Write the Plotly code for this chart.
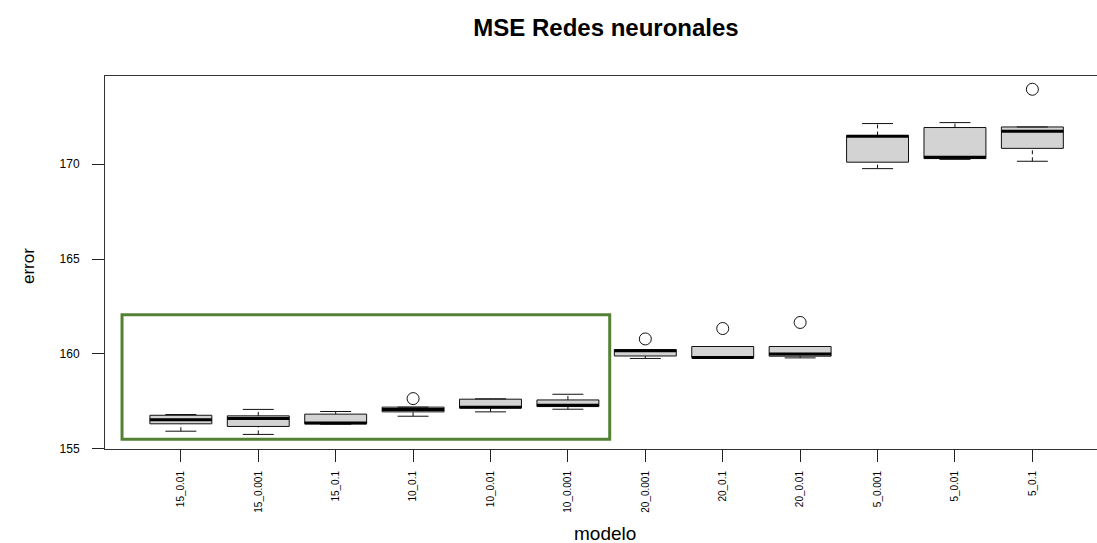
import plotly.graph_objects as go

# Modelos (neuronas_decay) y estadísticos del MSE por modelo
modelos = ["15_0.01", "15_0.001", "15_0.1", "10_0.1", "10_0.01", "10_0.001",
           "20_0.001", "20_0.1", "20_0.01", "5_0.001", "5_0.01", "5_0.1"]
bigote_inf = [155.91, 155.74, 156.28, 156.70, 156.93, 157.07,
              159.75, 159.79, 159.78, 169.77, 170.26, 170.16]
q1 = [156.30, 156.16, 156.30, 156.93, 157.14, 157.21,
      159.88, 159.80, 159.87, 170.11, 170.30, 170.84]
mediana = [156.51, 156.58, 156.34, 157.05, 157.18, 157.28,
           160.15, 159.80, 159.99, 171.48, 170.37, 171.74]
q3 = [156.75, 156.72, 156.81, 157.18, 157.60, 157.56,
      160.22, 160.38, 160.38, 171.52, 171.94, 171.97]
bigote_sup = [156.79, 157.06, 156.95, 157.18, 157.62, 157.86,
              160.22, 160.38, 160.38, 172.15, 172.20, 171.97]

# Valores atípicos
atipico_modelo = ["10_0.1", "20_0.001", "20_0.1", "20_0.01", "5_0.1"]
atipico_valor = [157.63, 160.78, 161.33, 161.65, 173.96]

# Recuadro que agrupa los mejores modelos (en unidades de los ejes)
recuadro_x = [0.24, 6.54]
recuadro_y = [155.49, 162.06]

pos = list(range(1, len(modelos) + 1))
idx = {m: i + 1 for i, m in enumerate(modelos)}
ancho = 0.8
FONT = "Arial, Liberation Sans, sans-serif"

fig = go.Figure()

# Cajas (sin bigotes, se dibujan aparte con línea discontinua)
fig.add_trace(go.Box(
    x=pos, q1=q1, median=mediana, q3=q3,
    lowerfence=q1, upperfence=q3,
    width=ancho, whiskerwidth=0, boxpoints=False,
    fillcolor="#D3D3D3", line=dict(color="#111111", width=1),
    showlegend=False, hoverinfo="skip",
))

# Bigotes discontinuos
wx, wy = [], []
for p, lo, a, b, hi in zip(pos, bigote_inf, q1, q3, bigote_sup):
    wx += [p, p, None, p, p, None]
    wy += [lo, a, None, b, hi, None]
fig.add_trace(go.Scatter(x=wx, y=wy, mode="lines",
                         line=dict(color="#111111", width=1, dash="4px,3px"),
                         showlegend=False, hoverinfo="skip"))

# Extremos de los bigotes
cx, cy = [], []
for p, lo, hi in zip(pos, bigote_inf, bigote_sup):
    cx += [p - ancho / 4, p + ancho / 4, None, p - ancho / 4, p + ancho / 4, None]
    cy += [lo, lo, None, hi, hi, None]
fig.add_trace(go.Scatter(x=cx, y=cy, mode="lines",
                         line=dict(color="#111111", width=1),
                         showlegend=False, hoverinfo="skip"))

# Mediana gruesa
mx, my = [], []
for p, m in zip(pos, mediana):
    mx += [p - ancho / 2, p + ancho / 2, None]
    my += [m, m, None]
fig.add_trace(go.Scatter(x=mx, y=my, mode="lines",
                         line=dict(color="black", width=3),
                         showlegend=False, hoverinfo="skip"))

# Atípicos
fig.add_trace(go.Scatter(
    x=[idx[m] for m in atipico_modelo], y=atipico_valor, mode="markers",
    marker=dict(symbol="circle-open", size=12, color="#111111",
                line=dict(width=1, color="#111111")),
    showlegend=False, hoverinfo="skip",
))

# Recuadro verde
fig.add_shape(type="rect", xref="x", yref="y",
              x0=recuadro_x[0], x1=recuadro_x[1],
              y0=recuadro_y[0], y1=recuadro_y[1],
              line=dict(color="#548235", width=3), fillcolor="rgba(0,0,0,0)")

fig.update_layout(
    width=1097, height=543,
    margin=dict(l=105, r=0, t=76, b=94),
    paper_bgcolor="white", plot_bgcolor="white",
    font=dict(family=FONT, color="black"),
    title=dict(text="<b>MSE Redes neuronales</b>", xref="container",
               x=606 / 1097, xanchor="center", y=1 - 28 / 543, yanchor="middle",
               font=dict(size=24, color="black", family=FONT)),
    xaxis=dict(range=[0.02, 12.835], tickmode="array", tickvals=pos,
               ticktext=modelos, tickangle=-90,
               tickfont=dict(size=10, color="black"),
               ticks="outside", ticklen=12, tickcolor="#222222",
               ticklabelstandoff=5,
               showline=True, mirror=True, linecolor="#333333", linewidth=1,
               showgrid=False, zeroline=False),
    yaxis=dict(range=[154.97, 174.66], tickmode="array",
               tickvals=[155, 160, 165, 170],
               tickfont=dict(size=12, color="black"),
               ticks="outside", ticklen=12, tickcolor="#222222",
               ticklabelstandoff=10,
               showline=True, mirror=False, linecolor="#333333", linewidth=1,
               showgrid=False, zeroline=False),
    annotations=[
        dict(text="error", xref="paper", yref="paper",
             x=(28 - 105) / 992, y=(449 - 266) / 373,
             xanchor="center", yanchor="middle", textangle=-90,
             showarrow=False, font=dict(size=17, color="black", family=FONT)),
        dict(text="modelo", xref="paper", yref="paper",
             x=(605 - 105) / 992, y=(449 - 533) / 373,
             xanchor="center", yanchor="middle",
             showarrow=False, font=dict(size=19, color="black", family=FONT)),
    ],
)

fig.write_html("out.html")
